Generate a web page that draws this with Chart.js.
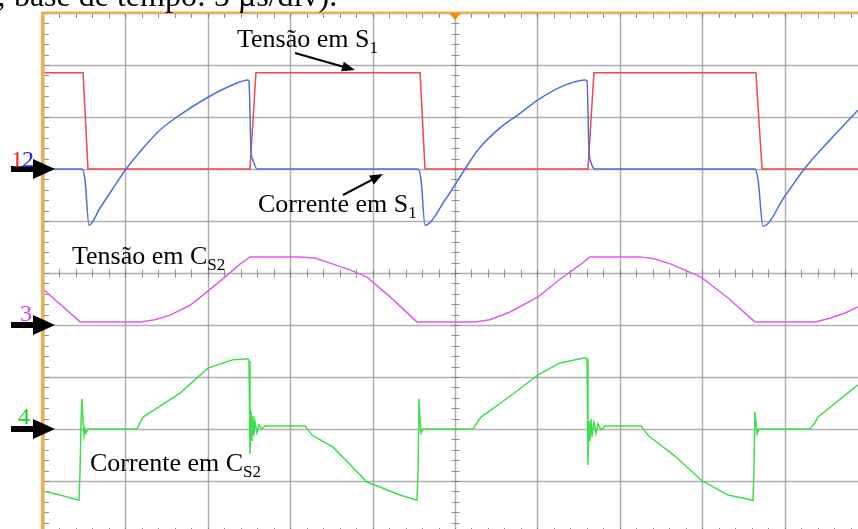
<!DOCTYPE html>
<html>
<head>
<meta charset="utf-8">
<script src="https://cdn.jsdelivr.net/npm/chart.js@4/dist/chart.umd.min.js"></script>
<style>
html,body{margin:0;padding:0;background:#fff;overflow:hidden;width:858px;height:529px;}
#wrap{position:absolute;left:0;top:0;width:880px;height:545px;}
</style>
</head>
<body>
<div id="wrap"><canvas id="c" width="880" height="545"></canvas></div>
<script>
// Time axis: µs (5 µs/div, 10 div). Values: divisions relative to each channel's ground marker.
const xTicks = [0,5,10,15,20,25,30,35,40,45,50];
const yTicks = [0,1,2,3,4,5,6,7,8,9,10];

// Channel 1 – Tensão em S1 (red)
const ch1T = [0, 2.43, 2.73, 12.56, 12.92, 22.88, 23.18, 33.07, 33.43, 43.26, 43.63, 49.45];
const ch1V = [1.85, 1.85, 0, 0, 1.85, 1.85, 0, 0, 1.85, 1.85, 0, 0];

// Channel 2 – Corrente em S1 (blue)
const ch2T = [0, 2.37, 2.55, 2.79, 3.46, 4.25, 5.04, 6.07, 7.10, 8.31, 10.01, 11.53, 12.44, 12.50, 12.62, 12.74, 12.99,
              22.76, 22.94, 23.18, 24.39, 25.61, 26.40, 27.73, 28.82, 30.04, 31.43, 32.89, 33.01, 33.13, 33.25, 33.50,
              43.20, 43.39, 43.69, 45.02, 46.24, 47.76, 49.45];
const ch2V = [0, 0, -0.21, -1.08, -0.75, -0.37, 0, 0.40, 0.75, 1.04, 1.38, 1.62, 1.71, 1.69, 0.37, 0.17, 0,
              0, -0.21, -1.08, -0.60, 0, 0.37, 0.79, 1.04, 1.33, 1.58, 1.71, 1.69, 0.37, 0.13, 0,
              0, -0.21, -1.10, -0.52, 0.02, 0.56, 1.13];

// Channel 3 – Tensão em CS2 (magenta)
const ch3T = [0, 2.25, 5.89, 6.80, 7.71, 8.92, 10.01, 11.04, 11.95, 12.56, 15.59, 16.50, 17.60, 18.63, 19.66, 21.06, 22.69,
              26.21, 27.12, 28.34, 30.04, 31.37, 32.65, 33.19, 36.23, 37.14, 38.11, 39.93, 41.57, 43.20,
              46.84, 47.76, 48.67, 49.45];
const ch3V = [0.69, 0.06, 0.06, 0.10, 0.19, 0.38, 0.65, 0.92, 1.17, 1.31, 1.31, 1.29, 1.17, 1.06, 0.92, 0.54, 0.06,
              0.06, 0.10, 0.25, 0.54, 0.88, 1.17, 1.31, 1.31, 1.27, 1.17, 0.92, 0.52, 0.06,
              0.06, 0.13, 0.23, 0.35];

// Channel 4 – Corrente em CS2 (green)
const ch4T = [0, 1.03, 2.18, 2.25, 2.31, 2.37, 2.43, 2.49, 2.55, 2.61, 2.73, 5.70, 5.89, 6.07, 7.10, 8.31, 10.01, 11.53, 12.44, 12.50,
              12.56, 12.62, 12.68, 12.74, 12.80, 12.86, 12.99, 13.11, 13.29, 13.47, 15.90, 16.32, 17.60, 19.66, 21.66, 22.69,
              22.76, 22.82, 22.88, 22.94, 23.06, 26.09, 26.40, 26.58, 28.34, 30.04, 31.37, 32.89, 33.01,
              33.07, 33.13, 33.19, 33.25, 33.31, 33.43, 33.56, 33.68, 33.86, 34.10, 36.29, 36.71, 38.35, 39.99, 41.57, 43.08,
              43.14, 43.20, 43.26, 43.33, 43.45, 46.54, 46.84, 47.03, 49.45];
const ch4V = [-1.19, -1.27, -1.37, -0.80, 0.15, 0.58, 0.15, -0.13, 0, -0.08, 0, 0, 0.12, 0.23, 0.44, 0.69, 1.17, 1.33, 1.35, 1.31,
              -0.48, 0.35, -0.23, 0.25, -0.13, 0.15, -0.08, 0.08, 0, 0.06, 0.06, -0.12, -0.35, -1.02, -1.27, -1.37,
              -0.80, 0.58, 0.15, -0.08, 0, 0, 0.15, 0.23, 0.63, 1.04, 1.27, 1.37, 1.35,
              -0.69, 0.15, -0.23, 0.19, -0.15, 0.13, -0.08, 0.10, -0.02, 0.06, 0.06, -0.12, -0.52, -1.00, -1.27, -1.37,
              -0.80, 0.33, 0.15, -0.10, 0, 0, 0.12, 0.23, 0.85];

// Ground marker levels (screen divisions from bottom)
const ground = {ch1: 7, ch2: 7, ch3: 4, ch4: 2};

function pts(T, V, g){ return T.map((t,i)=>({x:t, y:V[i]+g})); }

const ds = (label, data, color, smooth) => ({label, data, borderColor: color, borderWidth: 1.5,
  pointRadius: 0, showLine: true, tension: smooth ? 0.4 : 0,
  cubicInterpolationMode: smooth ? 'monotone' : 'default', fill: false});

const gridPlugin = {
  id: 'grid',
  beforeDatasetsDraw(chart){
    const {ctx, scales:{x, y}} = chart;
    const L = x.getPixelForValue(0), R = x.getPixelForValue(50);
    const T = y.getPixelForValue(10), B = y.getPixelForValue(0);
    ctx.save();
    ctx.strokeStyle = 'rgba(150,150,150,0.75)';
    ctx.lineWidth = 1.5;
    xTicks.forEach(v=>{ const p = Math.round(x.getPixelForValue(v))+0.5; ctx.beginPath(); ctx.moveTo(p,T); ctx.lineTo(p,B); ctx.stroke(); });
    yTicks.forEach(v=>{ const p = Math.round(y.getPixelForValue(v))+0.5; ctx.beginPath(); ctx.moveTo(L,p); ctx.lineTo(R,p); ctx.stroke(); });
    // minor ticks
    ctx.lineWidth = 1;
    ctx.strokeStyle = 'rgba(120,120,120,0.8)';
    const cx = Math.round(x.getPixelForValue(25))+0.5, cy = Math.round(y.getPixelForValue(5))+0.5;
    for(let k=0;k<=50;k++){
      const v = k*0.2;
      const p = Math.round(y.getPixelForValue(v))+0.5;
      ctx.beginPath(); ctx.moveTo(L,p); ctx.lineTo(L+6,p); ctx.stroke();
      ctx.beginPath(); ctx.moveTo(cx-4,p); ctx.lineTo(cx+4,p); ctx.stroke();
    }
    for(let k=0;k<=50;k++){
      const p = Math.round(x.getPixelForValue(k))+0.5;
      ctx.beginPath(); ctx.moveTo(p,T); ctx.lineTo(p,T+5); ctx.stroke();
      ctx.beginPath(); ctx.moveTo(p,cy-4); ctx.lineTo(p,cy+4); ctx.stroke();
      ctx.beginPath(); ctx.moveTo(p,B); ctx.lineTo(p,B-5); ctx.stroke();
    }
    ctx.restore();
  },
  afterDatasetsDraw(chart){
    const {ctx, scales:{x, y}} = chart;
    const L = x.getPixelForValue(0), R = x.getPixelForValue(50);
    const T = y.getPixelForValue(10), B = y.getPixelForValue(0);
    ctx.save();
    ctx.fillStyle = '#f3ad52';
    ctx.fillRect(L-2, T-1, 3.5, B-T+2);
    ctx.fillRect(L-2, T-1.5, R-L+4, 2.2);
    // trigger marker
    const tx = x.getPixelForValue(25);
    ctx.fillStyle = '#f5890f';
    ctx.beginPath(); ctx.moveTo(tx-6,T); ctx.lineTo(tx+6,T); ctx.lineTo(tx,T+7); ctx.closePath(); ctx.fill();

    const serif = '"Liberation Serif","Times New Roman",serif';
    function label(main, sub, xx, base){
      ctx.fillStyle = '#000';
      ctx.font = '26px ' + serif;
      ctx.textBaseline = 'alphabetic';
      ctx.textAlign = 'left';
      ctx.fillText(main, xx, base);
      const w = ctx.measureText(main).width;
      ctx.font = '17px ' + serif;
      ctx.fillText(sub, xx + w, base + 6);
    }
    label('Tensão em S', '1', 237, 47);
    label('Corrente em S', '1', 258, 212);
    label('Tensão em C', 'S2', 72, 264);
    label('Corrente em C', 'S2', 90, 471);

    ctx.font = '32px ' + serif;
    ctx.fillStyle = '#000';
    ctx.fillText('; base de tempo: 5 µs/div).', -3, 6);

    function arrow(x1,y1,x2,y2){
      const a = Math.atan2(y2-y1, x2-x1), h = 13, w = 5;
      ctx.strokeStyle = '#000'; ctx.lineWidth = 2;
      ctx.beginPath(); ctx.moveTo(x1,y1); ctx.lineTo(x2-Math.cos(a)*h*0.8, y2-Math.sin(a)*h*0.8); ctx.stroke();
      ctx.beginPath();
      ctx.moveTo(x2,y2);
      ctx.lineTo(x2-Math.cos(a)*h - Math.sin(a)*w, y2-Math.sin(a)*h + Math.cos(a)*w);
      ctx.lineTo(x2-Math.cos(a)*h + Math.sin(a)*w, y2-Math.sin(a)*h - Math.cos(a)*w);
      ctx.closePath(); ctx.fillStyle='#000'; ctx.fill();
    }
    arrow(295,53,355,70);
    arrow(343,195,383,174);

    // channel markers
    function marker(gv){
      const c = y.getPixelForValue(gv);
      ctx.fillStyle = '#000';
      ctx.fillRect(11, c-3, 24, 6);
      ctx.beginPath(); ctx.moveTo(33,c-10); ctx.lineTo(55,c); ctx.lineTo(33,c+10); ctx.closePath(); ctx.fill();
    }
    marker(ground.ch1); marker(ground.ch3); marker(ground.ch4);
    ctx.font = '24px ' + serif;
    const c1 = y.getPixelForValue(ground.ch1);
    ctx.fillStyle = '#ff1a1a'; ctx.fillText('1', 11, c1-2);
    ctx.fillStyle = '#1a1aff'; ctx.fillText('2', 22, c1-2);
    ctx.fillStyle = '#e040f0'; ctx.fillText('3', 20, y.getPixelForValue(ground.ch3)-4);
    ctx.fillStyle = '#19d419'; ctx.fillText('4', 18, y.getPixelForValue(ground.ch4)-5);
    ctx.restore();
  }
};

new Chart(document.getElementById('c'), {
  type: 'scatter',
  data: { datasets: [
    ds('Corrente em S1', pts(ch2T, ch2V, ground.ch2), '#4a6ee6', true),
    ds('Tensão em S1', pts(ch1T, ch1V, ground.ch1), '#ee4848', false),
    ds('Tensão em CS2', pts(ch3T, ch3V, ground.ch3), '#df5cf2', false),
    ds('Corrente em CS2', pts(ch4T, ch4V, ground.ch4), '#3ee04a', false)
  ]},
  options: {
    responsive: false, animation: false, devicePixelRatio: 1,
    layout: { padding: {left: 43, top: 13, right: 13, bottom: 12} },
    scales: {
      x: { type: 'linear', min: 0, max: 50, display: false },
      y: { type: 'linear', min: 0, max: 10, display: false }
    },
    plugins: { legend: {display: false}, tooltip: {enabled: false} }
  },
  plugins: [gridPlugin]
});
</script>
</body>
</html>
